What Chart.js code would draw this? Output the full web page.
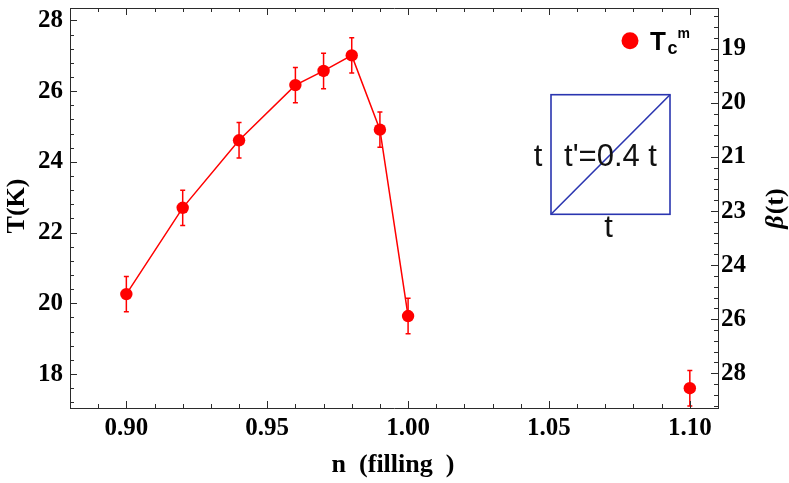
<!DOCTYPE html>
<html><head><meta charset="utf-8">
<script src="https://cdn.jsdelivr.net/npm/chart.js@4.4.1/dist/chart.umd.min.js"></script>
<style>html,body{margin:0;padding:0;background:#fff}#wrap{width:789px;height:483px;position:relative}</style>
</head><body><div id="wrap"><canvas id="c" width="789" height="483"></canvas></div>
<script>
// ---- data ----
const fillingN   = [0.90, 0.92, 0.94, 0.96, 0.97, 0.98, 0.99, 1.00];
const tcM        = [20.26, 22.70, 24.61, 26.17, 26.57, 27.01, 24.91, 19.64];
const tcMErr     = [0.5, 0.5, 0.5, 0.5, 0.5, 0.5, 0.5, 0.5];
const isolatedN  = [1.10];
const isolatedT  = [17.60];
const isolatedErr= [0.5];
const xTickValues = [0.90, 0.95, 1.00, 1.05, 1.10];
const yTickValues = [18, 20, 22, 24, 26, 28];
const betaTickLabels = ['19', '20', '21', '23', '24', '26', '28'];
const legendLabel = 'T';
const RED = '#ff0000';
const FRAME = '#2b2b2b';
const INSET = '#2a35b0';

const tickFont = {family: 'Liberation Serif', weight: 'bold', size: 25};

function fixBox(prop, val) {
  return s => { s[prop] = val; s.paddingTop = 0; s.paddingBottom = 0; s.paddingLeft = 0; s.paddingRight = 0; };
}

const decor = {
  id: 'decor',
  beforeDatasetsDraw(chart) {
    const {ctx, scales: {x, y}} = chart;
    ctx.save();
    ctx.strokeStyle = RED; ctx.lineWidth = 1.5;
    const draw = (ns, ts, es) => ns.forEach((n, i) => {
      const px = x.getPixelForValue(n);
      const y1 = y.getPixelForValue(ts[i] + es[i]);
      const y2 = y.getPixelForValue(ts[i] - es[i]);
      ctx.beginPath();
      ctx.moveTo(px, y1); ctx.lineTo(px, y2);
      ctx.moveTo(px - 2.5, y1); ctx.lineTo(px + 2.5, y1);
      ctx.moveTo(px - 2.5, y2); ctx.lineTo(px + 2.5, y2);
      ctx.stroke();
    });
    draw(fillingN, tcM, tcMErr);
    draw(isolatedN, isolatedT, isolatedErr);
    ctx.restore();
  },
  afterDraw(chart) {
    const {ctx, chartArea: a, scales: {x, y, y2}} = chart;
    ctx.save();
    // inward frame ticks
    ctx.strokeStyle = FRAME; ctx.lineWidth = 1;
    ctx.beginPath();
    for (let i = 88; i <= 111; i++) {
      const px = Math.round(x.getPixelForValue(i / 100)) + 0.5;
      const len = (i % 5 === 0) ? 7 : 4;
      ctx.moveTo(px, a.bottom); ctx.lineTo(px, a.bottom - len);
      ctx.moveTo(px, a.top); ctx.lineTo(px, a.top + len);
    }
    for (let i = 43; i <= 71; i++) {
      const v = i * 0.4;
      if (v > y.max || v < y.min) continue;
      const py = Math.round(y.getPixelForValue(v)) + 0.5;
      const len = (i % 5 === 0) ? 7 : 4;
      ctx.moveTo(a.left, py); ctx.lineTo(a.left + len, py);
    }
    for (let i = -3; i <= 33; i++) {
      const v = i * 0.2;
      if (v > y2.max || v < y2.min) continue;
      const py = Math.round(y2.getPixelForValue(v)) + 0.5;
      const len = (i % 5 === 0) ? 7 : 4;
      ctx.moveTo(a.right, py); ctx.lineTo(a.right - len, py);
    }
    ctx.stroke();

    // legend
    const lx = a.right - 88, ly = a.top + 32.7;
    ctx.fillStyle = RED;
    ctx.beginPath(); ctx.arc(lx, ly, 8.5, 0, Math.PI * 2); ctx.fill();
    ctx.fillStyle = '#000';
    ctx.textBaseline = 'alphabetic'; ctx.textAlign = 'left';
    ctx.font = 'bold 26px "Liberation Sans"';
    ctx.fillText(legendLabel, lx + 20, ly + 9.5);
    ctx.font = 'bold 18px "Liberation Sans"';
    ctx.fillText('c', lx + 37.5, ly + 13);
    ctx.font = 'bold 14px "Liberation Sans"';
    ctx.fillText('m', lx + 47.5, ly - 2.5);

    // inset lattice sketch
    const bx0 = a.left + 481, by0 = a.top + 86.7, bx1 = a.left + 600, by1 = a.top + 206.3;
    ctx.strokeStyle = INSET; ctx.lineWidth = 1.6;
    ctx.strokeRect(bx0, by0, bx1 - bx0, by1 - by0);
    ctx.beginPath(); ctx.moveTo(bx0, by1); ctx.lineTo(bx1, by0); ctx.stroke();
    ctx.fillStyle = '#111';
    ctx.font = '31px "Liberation Sans"';
    ctx.textAlign = 'center';
    ctx.fillText("t'=0.4 t", (bx0 + bx1) / 2, by0 + 71.5);
    ctx.fillText('t', bx0 - 13, by0 + 71.5);
    ctx.fillText('t', (bx0 + bx1) / 2 - 2, by1 + 22.5);

    // axis titles
    ctx.fillStyle = '#000';
    ctx.textBaseline = 'middle';
    ctx.font = 'bold 26px "Liberation Serif"';
    ctx.fillText('n\u2002(filling  )', (a.left + a.right) / 2 - 1, a.bottom + 57);
    ctx.save();
    ctx.translate(17.5, (a.top + a.bottom) / 2 - 2);
    ctx.rotate(-Math.PI / 2);
    ctx.fillText('T(K)', 0, 0);
    ctx.restore();
    ctx.save();
    ctx.translate(776, (a.top + a.bottom) / 2 + 1);
    ctx.rotate(-Math.PI / 2);
    ctx.textAlign = 'left';
    ctx.font = 'italic bold 26px "Liberation Serif"';
    const wb = ctx.measureText('β').width;
    ctx.font = 'bold 26px "Liberation Serif"';
    const wt = ctx.measureText('(t)').width;
    const start = -(wb + wt) / 2;
    ctx.font = 'italic bold 26px "Liberation Serif"';
    ctx.fillText('β', start, 0);
    ctx.font = 'bold 26px "Liberation Serif"';
    ctx.fillText('(t)', start + wb + 1, 0);
    ctx.restore();
    ctx.restore();
  }
};

new Chart(document.getElementById('c'), {
  type: 'scatter',
  data: {
    datasets: [
      {
        label: 'Tcm',
        data: fillingN.map((n, i) => ({x: n, y: tcM[i]})),
        showLine: true, tension: 0,
        borderColor: RED, borderWidth: 1.5,
        pointBackgroundColor: RED, pointBorderWidth: 0, pointRadius: 6.2,
        yAxisID: 'y', xAxisID: 'x'
      },
      {
        label: 'Tcm isolated',
        data: isolatedN.map((n, i) => ({x: n, y: isolatedT[i]})),
        showLine: false,
        pointBackgroundColor: RED, pointBorderWidth: 0, pointRadius: 6.2,
        yAxisID: 'y', xAxisID: 'x'
      }
    ]
  },
  options: {
    responsive: false, animation: false, devicePixelRatio: 1,
    layout: {padding: {top: 8, left: 0, right: 0, bottom: 0}},
    plugins: {legend: {display: false}, tooltip: {enabled: false}},
    scales: {
      x: {
        type: 'linear', position: 'bottom', min: 0.88, max: 1.11,
        grid: {display: false, drawTicks: false},
        border: {display: true, color: FRAME, width: 1},
        afterBuildTicks: s => { s.ticks = xTickValues.map(v => ({value: v})); },
        ticks: {padding: 6, color: '#000', font: tickFont, callback: v => Number(v).toFixed(2)},
        afterFit: fixBox('height', 75)
      },
      x2: {
        type: 'linear', position: 'top', min: 0.88, max: 1.11,
        grid: {display: false, drawTicks: false},
        border: {display: true, color: FRAME, width: 1},
        ticks: {display: false},
        afterFit: fixBox('height', 0)
      },
      y: {
        type: 'linear', position: 'left', min: 17.04, max: 28.35,
        grid: {display: false, drawTicks: false},
        border: {display: true, color: FRAME, width: 1},
        afterBuildTicks: s => { s.ticks = yTickValues.map(v => ({value: v})); },
        ticks: {padding: 7, color: '#000', font: tickFont, callback: v => String(v)},
        afterFit: fixBox('width', 70)
      },
      y2: {
        type: 'linear', position: 'right', reverse: true, min: -0.756, max: 6.643,
        grid: {display: false, drawTicks: false},
        border: {display: true, color: FRAME, width: 1},
        afterBuildTicks: s => { s.ticks = betaTickLabels.map((_, i) => ({value: i})); },
        ticks: {padding: 3, color: '#000', font: tickFont, callback: v => betaTickLabels[v]},
        afterFit: fixBox('width', 71)
      }
    }
  },
  plugins: [decor]
});
</script>
</body></html>
